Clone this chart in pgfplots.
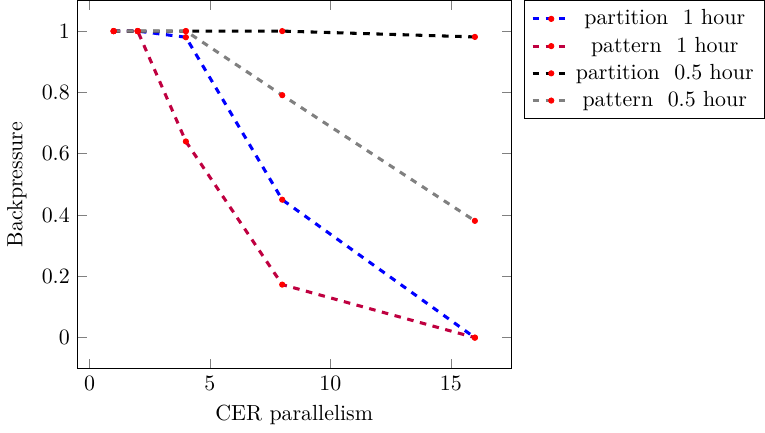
\documentclass[border=0pt]{standalone}
\usepackage{pgfplots}
\pgfplotsset{compat=1.18}
\begin{document}
\begin{tikzpicture}
\begin{axis}[
  width=243pt, height=213pt,
  xlabel={CER parallelism},
  ylabel={Backpressure},
  xmin=-0.5, xmax=17.5, ymin=-0.1, ymax=1.1,
  xtick={0,5,10,15},
  ytick={0,0.2,0.4,0.6,0.8,1},
  legend style={at={(1.03,1)}, anchor=north west},
  legend cell align=center,
  every axis plot/.append style={line width=1.4pt, dashed, mark=*, mark size=1.2pt,
    mark options={solid, red, fill=red, line width=0.4pt}},
]
\addplot[color=blue] coordinates {(1,1) (2,1) (4,0.98) (8,0.45) (16,0)};
\addlegendentry{partition\ \ 1 hour}
\addplot[color=purple] coordinates {(1,1) (2,1) (4,0.64) (8,0.173) (16,0)};
\addlegendentry{pattern\ \ 1 hour}
\addplot[color=black] coordinates {(1,1) (2,1) (4,1) (8,1) (16,0.981)};
\addlegendentry{partition\ \ 0.5 hour}
\addplot[color=gray] coordinates {(1,1) (2,1) (4,1) (8,0.791) (16,0.381)};
\addlegendentry{pattern\ \ 0.5 hour}
\end{axis}
\end{tikzpicture}
\end{document}
